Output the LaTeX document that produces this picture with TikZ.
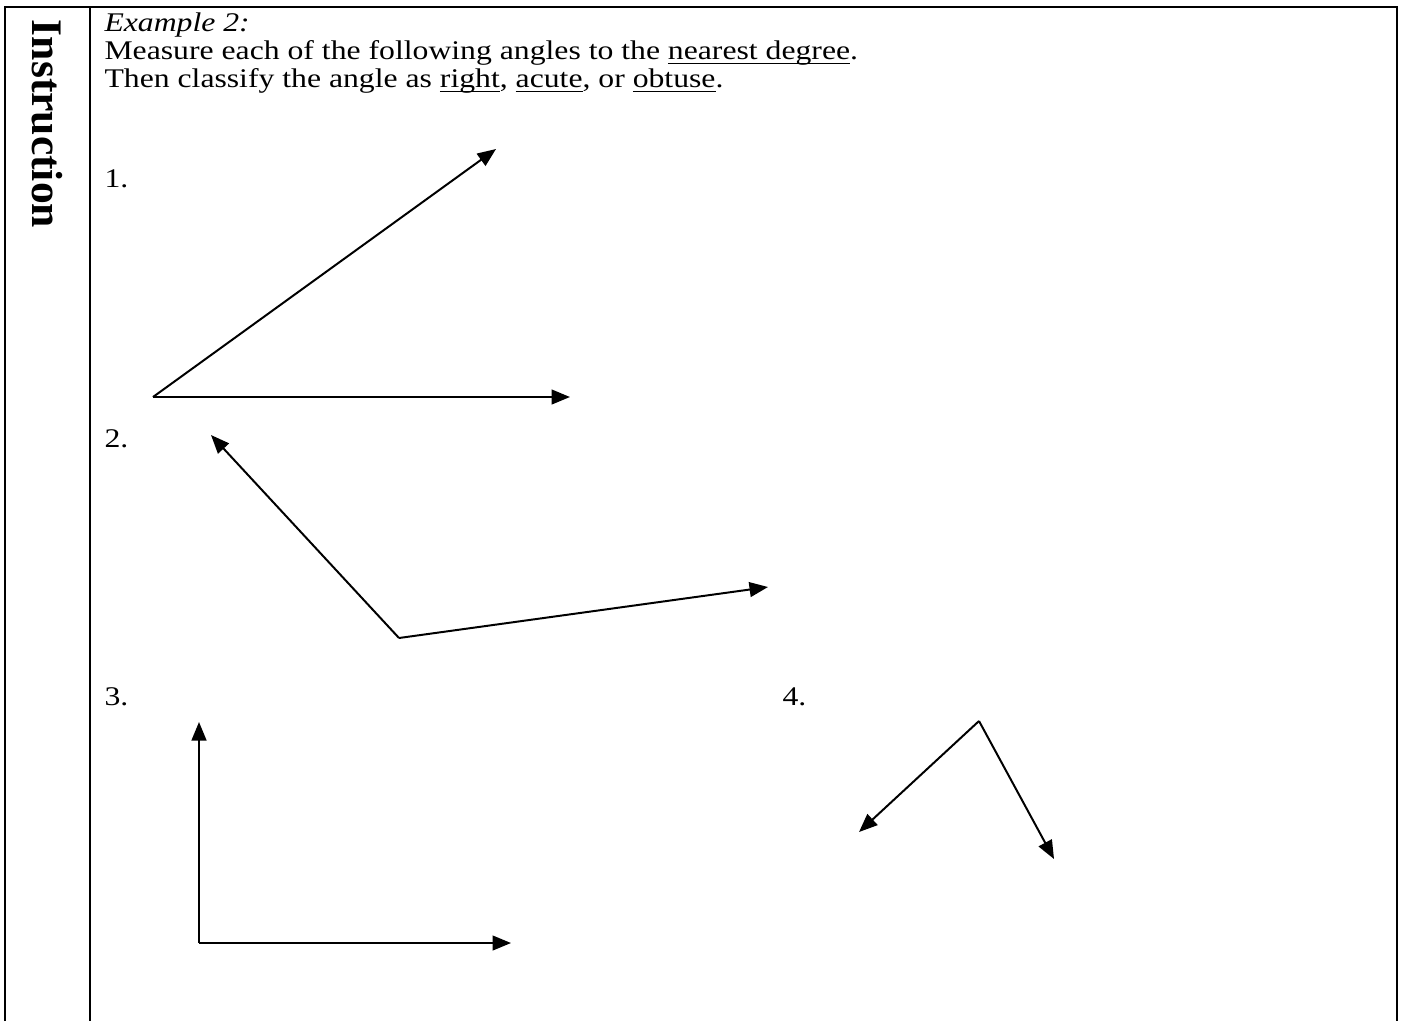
\documentclass[tikz,border=0pt]{standalone}
\usepackage{fontspec}
\usepackage{graphicx}
\setmainfont{Liberation Serif}
\newcommand{\myul}[1]{\setbox0\hbox{#1}\rlap{\rule[-2.4pt]{\wd0}{0.5pt}}\box0}
\newcommand{\vsq}[1]{\scalebox{1}[0.85]{#1}}
\usetikzlibrary{arrows.meta}
\begin{document}
\begin{tikzpicture}[x=0.3785pt,y=-0.3785pt,
  frame/.style={line width=0.95pt},
  ray/.style={line width=0.75pt,-{Triangle[length=7pt,width=5.6pt]}},
  txt/.style={anchor=base west,inner sep=0pt,font=\fontsize{12}{14}\selectfont}]
\useasboundingbox (0,0) rectangle (1403,1021);
% frame
\coordinate (tl) at (5,7);
\coordinate (tr) at (1397,7);
\coordinate (bl) at (5,1021);
\coordinate (br) at (1397,1021);
\coordinate (dt) at (90,7);
\coordinate (db) at (90,1021);
\draw[frame] (bl) -- (tl) -- (tr) -- (br);
\draw[frame] (dt) -- (db);
\node[rotate=-90,inner sep=0pt,font=\fontsize{16.5}{19}\bfseries\selectfont] (instr) at (47,124) {Instruction};
% texts
\node[txt] (ex) at (104,31) {\vsq{\textit{Example 2:}}};
\node[txt] (l1) at (104,59) {\vsq{Measure each of the following angles to the \myul{nearest degree}.}};
\node[txt] (l2) at (104,87) {\vsq{Then classify the angle as \myul{right}, \myul{acute}, or \myul{obtuse}.}};
\node[txt] (n1) at (104,187) {\vsq{1.}};
\node[txt] (n2) at (104,447) {\vsq{2.}};
\node[txt] (n3) at (104,705) {\vsq{3.}};
\node[txt] (n4) at (782,705) {\vsq{4.}};
% angle 1
\coordinate (v1) at (153,397);
\coordinate (a1) at (496,149);
\coordinate (b1) at (570,397);
\draw[ray] (v1) -- (a1);
\draw[ray] (v1) -- (b1);
% angle 2
\coordinate (v2) at (399,638);
\coordinate (a2) at (211,435);
\coordinate (b2) at (768,587);
\draw[ray] (v2) -- (a2);
\draw[ray] (v2) -- (b2);
% angle 3
\coordinate (v3) at (199,943);
\coordinate (a3) at (199,722);
\coordinate (b3) at (511,943);
\draw[ray] (v3) -- (a3);
\draw[ray] (v3) -- (b3);
% angle 4
\coordinate (v4) at (979,721);
\coordinate (a4) at (859,832);
\coordinate (b4) at (1054,859);
\draw[ray] (v4) -- (a4);
\draw[ray] (v4) -- (b4);
\end{tikzpicture}
\end{document}
